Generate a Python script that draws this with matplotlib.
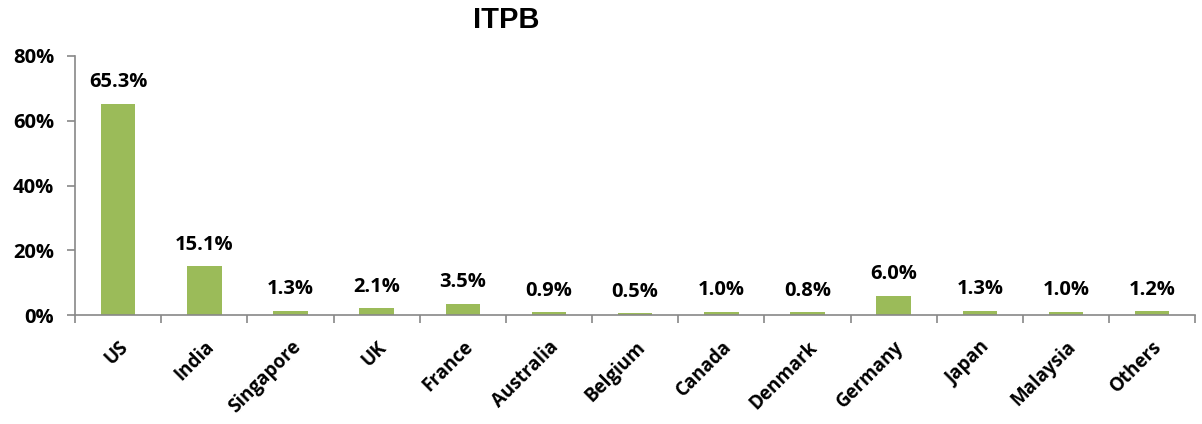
import matplotlib.pyplot as plt
import numpy as np

countries = ['US', 'India', 'Singapore', 'UK', 'France', 'Australia', 'Belgium',
             'Canada', 'Denmark', 'Germany', 'Japan', 'Malaysia', 'Others']
shares = [65.3, 15.1, 1.3, 2.1, 3.5, 0.9, 0.5, 1.0, 0.8, 6.0, 1.3, 1.0, 1.2]

plt.rcParams['font.family'] = ['Open Sans', 'DejaVu Sans']

fig = plt.figure(figsize=(12.02, 4.24), dpi=100)
ax = fig.add_axes([0.0624, 0.257, 0.932, 0.611])

x = np.arange(len(countries))
ax.bar(x, shares, width=0.4, color='#9BBB59', zorder=2)

for xi, v in zip(x, shares):
    ax.text(xi, v + 3.5, f'{v:.1f}%', ha='center', va='bottom',
            fontsize=14.5, fontweight='bold')

ax.set_xlim(-0.5, len(countries) - 0.5)
ax.set_ylim(0, 80)
ax.set_yticks([0, 20, 40, 60, 80])
ax.set_yticklabels([f'{t}%' for t in [0, 20, 40, 60, 80]], fontsize=14.5, fontweight='bold')

ax.set_xticks(x)
ax.set_xticklabels(countries, rotation=45, ha='right', rotation_mode='anchor',
                   fontsize=13.5, fontweight='bold')
ax.tick_params(axis='x', which='major', length=0, pad=16)
ax.set_xticks(np.arange(-0.5, len(countries), 1), minor=True)
ax.tick_params(axis='x', which='minor', length=6, color='#888888', width=1.2)
ax.tick_params(axis='y', length=6, color='#888888', width=1.2, pad=9)

for s in ['top', 'right']:
    ax.spines[s].set_visible(False)
for s in ['left', 'bottom']:
    ax.spines[s].set_color('#888888')
    ax.spines[s].set_linewidth(1.2)

fig.text(0.421, 0.953, 'ITPB', ha='center', va='center', fontsize=21,
         fontweight='bold', family='Liberation Sans')

fig.savefig('out.png', dpi=100)
